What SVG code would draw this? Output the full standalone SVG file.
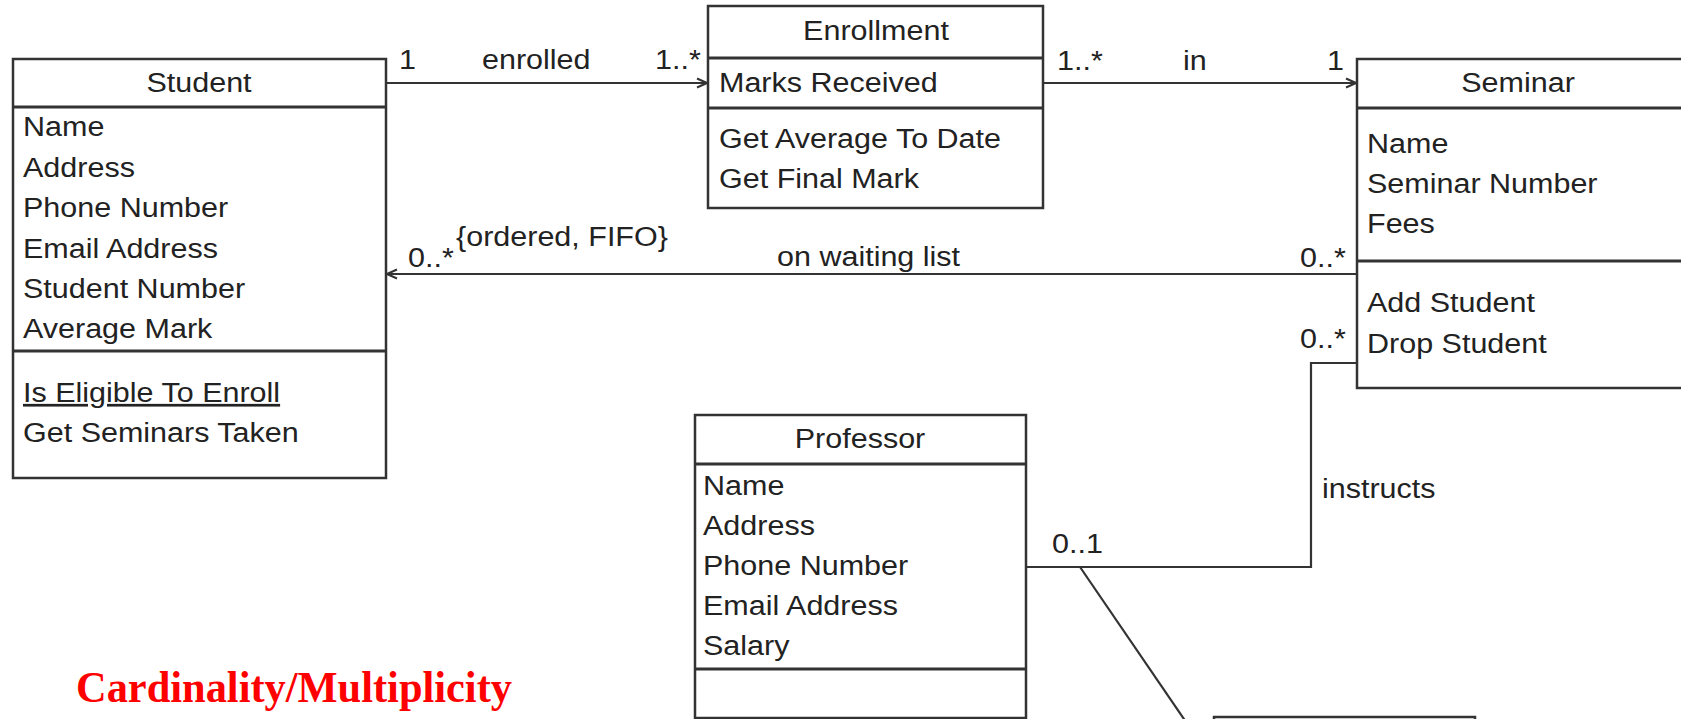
<svg xmlns="http://www.w3.org/2000/svg" width="1681" height="719" viewBox="0 0 1681 719">
  <style>
    .box { fill: #ffffff; stroke: #333333; stroke-width: 2.5; }
    .div { stroke: #333333; stroke-width: 3; }
    .t { font-family: "Liberation Sans", Arial, sans-serif; font-size: 27px; fill: #222222; }
    .c { text-anchor: middle; }
    .link { fill: none; stroke: #333333; stroke-width: 2.2; }
    .title { font-family: "Liberation Serif", "Times New Roman", serif; font-weight: bold; font-size: 44px; fill: #ff0000; }
  </style>
  <defs>
    <marker id="open" markerWidth="12" markerHeight="12" refX="11" refY="6" orient="auto" markerUnits="userSpaceOnUse">
      <path d="M1,1.5 L11,6 L1,10.5" fill="none" stroke="#333333" stroke-width="2"/>
    </marker>
  </defs>

  <rect width="1681" height="719" fill="#ffffff"/>

  <!-- connectors -->
  <g id="connectors">
    <line class="link" x1="386" y1="83" x2="707" y2="83" marker-end="url(#open)"/>
    <line class="link" x1="1043" y1="83" x2="1356" y2="83" marker-end="url(#open)"/>
    <line class="link" x1="1357" y1="274" x2="387" y2="274" marker-end="url(#open)"/>
    <polyline class="link" points="1357,363 1311,363 1311,567 1026,567"/>
    <line class="link" x1="1080" y1="567" x2="1186" y2="722"/>

    <text class="t" transform="translate(399 69) scale(1.13 1)">1</text>
    <text class="t" transform="translate(482 69) scale(1.13 1)">enrolled</text>
    <text class="t" transform="translate(655 69) scale(1.13 1)">1..*</text>
    <text class="t" transform="translate(1057 70) scale(1.13 1)">1..*</text>
    <text class="t" transform="translate(1183 70) scale(1.13 1)">in</text>
    <text class="t" transform="translate(1327 70) scale(1.13 1)">1</text>
    <text class="t" transform="translate(408 267) scale(1.13 1)">0..*</text>
    <text class="t" transform="translate(456 246) scale(1.13 1)">{ordered, FIFO}</text>
    <text class="t" transform="translate(777 266) scale(1.13 1)">on waiting list</text>
    <text class="t" transform="translate(1300 267) scale(1.13 1)">0..*</text>
    <text class="t" transform="translate(1300 348) scale(1.13 1)">0..*</text>
    <text class="t" transform="translate(1322 498) scale(1.13 1)">instructs</text>
    <text class="t" transform="translate(1052 553) scale(1.13 1)">0..1</text>
  </g>

  <!-- Student class -->
  <g id="student">
    <rect class="box" x="13" y="59" width="373" height="419"/>
    <line class="div" x1="13" y1="107" x2="386" y2="107"/>
    <line class="div" x1="13" y1="351" x2="386" y2="351"/>
    <text class="t c" transform="translate(199 92) scale(1.13 1)">Student</text>
    <text class="t" transform="translate(23 136) scale(1.13 1)">Name</text>
    <text class="t" transform="translate(23 177) scale(1.13 1)">Address</text>
    <text class="t" transform="translate(23 217) scale(1.13 1)">Phone Number</text>
    <text class="t" transform="translate(23 258) scale(1.13 1)">Email Address</text>
    <text class="t" transform="translate(23 298) scale(1.13 1)">Student Number</text>
    <text class="t" transform="translate(23 338) scale(1.13 1)">Average Mark</text>
    <text class="t" transform="translate(23 402) scale(1.13 1)" text-decoration="underline">Is Eligible To Enroll</text>
    <text class="t" transform="translate(23 442) scale(1.13 1)">Get Seminars Taken</text>
  </g>

  <!-- Enrollment class -->
  <g id="enrollment">
    <rect class="box" x="708" y="6" width="335" height="202"/>
    <line class="div" x1="708" y1="58" x2="1043" y2="58"/>
    <line class="div" x1="708" y1="108" x2="1043" y2="108"/>
    <text class="t c" transform="translate(876 40) scale(1.13 1)">Enrollment</text>
    <text class="t" transform="translate(719 92) scale(1.13 1)">Marks Received</text>
    <text class="t" transform="translate(719 148) scale(1.13 1)">Get Average To Date</text>
    <text class="t" transform="translate(719 188) scale(1.13 1)">Get Final Mark</text>
  </g>

  <!-- Seminar class -->
  <g id="seminar">
    <rect class="box" x="1357" y="59" width="330" height="329"/>
    <line class="div" x1="1357" y1="108" x2="1687" y2="108"/>
    <line class="div" x1="1357" y1="261" x2="1687" y2="261"/>
    <text class="t c" transform="translate(1518 92) scale(1.13 1)">Seminar</text>
    <text class="t" transform="translate(1367 153) scale(1.13 1)">Name</text>
    <text class="t" transform="translate(1367 193) scale(1.13 1)">Seminar Number</text>
    <text class="t" transform="translate(1367 233) scale(1.13 1)">Fees</text>
    <text class="t" transform="translate(1367 312) scale(1.13 1)">Add Student</text>
    <text class="t" transform="translate(1367 353) scale(1.13 1)">Drop Student</text>
  </g>

  <!-- Professor class -->
  <g id="professor">
    <rect class="box" x="695" y="415" width="331" height="303"/>
    <line class="div" x1="695" y1="464" x2="1026" y2="464"/>
    <line class="div" x1="695" y1="669" x2="1026" y2="669"/>
    <text class="t c" transform="translate(860 448) scale(1.13 1)">Professor</text>
    <text class="t" transform="translate(703 495) scale(1.13 1)">Name</text>
    <text class="t" transform="translate(703 535) scale(1.13 1)">Address</text>
    <text class="t" transform="translate(703 575) scale(1.13 1)">Phone Number</text>
    <text class="t" transform="translate(703 615) scale(1.13 1)">Email Address</text>
    <text class="t" transform="translate(703 655) scale(1.13 1)">Salary</text>
  </g>

  <!-- box running off the lower edge -->
  <g id="lower-box">
    <rect class="box" x="1214" y="717" width="261" height="40"/>
  </g>

  <g id="caption">
    <text class="title" x="76" y="702" textLength="436" lengthAdjust="spacingAndGlyphs">Cardinality/Multiplicity</text>
  </g>
</svg>
